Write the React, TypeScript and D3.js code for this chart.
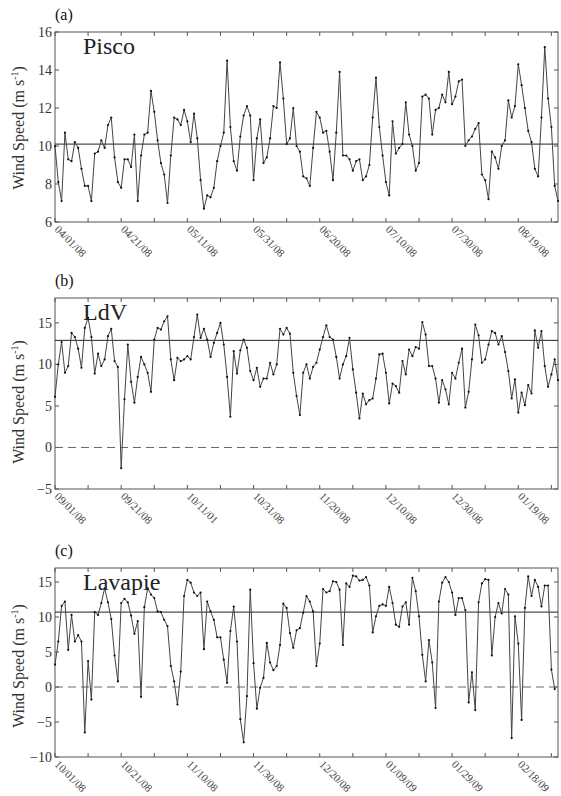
import React from "react";
import * as d3 from "d3";

// daily wind speed (m s-1), day 0 = first date label
const piscoSpeed = [
  10.0, 8.1, 7.1, 10.7, 9.3, 9.2, 10.2, 9.9, 8.8, 7.9, 7.9, 7.1, 9.6, 9.7, 10.3, 9.9, 11.1, 11.5, 9.4, 8.1,
  7.8, 9.3, 9.3, 8.9, 10.6, 7.1, 9.5, 10.6, 10.7, 12.9, 11.8, 10.3, 9.1, 8.5, 7.0, 9.5, 11.5, 11.4, 11.1, 11.9,
  11.3, 10.2, 11.7, 10.4, 8.2, 6.7, 7.4, 7.3, 7.8, 9.2, 10.0, 10.7, 14.5, 11.0, 9.2, 8.7, 10.5, 11.6, 12.1, 11.6,
  8.2, 10.4, 11.4, 9.1, 9.4, 10.4, 12.1, 12.0, 14.4, 12.5, 10.1,
  10.4, 12.0, 10.0, 9.7, 8.4, 8.3, 7.9, 9.9, 11.8, 11.5, 10.7, 10.8, 9.7, 8.2, 10.7, 13.9, 9.5, 9.5, 9.3, 8.7,
  9.2, 9.3, 8.2, 8.4, 9.0, 11.5, 13.6, 11.0, 9.5, 8.1, 7.4, 11.3, 9.6, 9.9, 10.1, 12.3, 10.6, 10.0, 8.7, 9.1,
  12.6, 12.7, 12.5, 10.6, 11.9, 12.0, 12.7, 12.3, 13.9, 12.2, 12.6, 13.4, 13.5, 10.0, 10.3, 10.5, 10.9, 11.2, 8.5, 8.2,
  7.2, 9.7, 9.4, 8.8, 10.0, 10.3, 12.4, 11.5, 12.1, 14.3, 13.2, 12.0, 10.8, 10.2, 8.8, 8.4, 11.5, 15.2, 12.5, 11.0,
  7.9, 7.1,
];

const ldvSpeed = [
  6.1, 10.0, 12.7, 9.0, 9.8, 13.8, 13.3, 11.9, 9.6, 14.4, 15.6, 13.3, 8.9, 11.3, 9.8, 10.6, 13.4, 14.3, 10.4, 9.7,
  -2.5, 5.8, 12.4, 7.9, 5.4, 8.5, 10.9, 10.0, 9.0, 6.7, 13.0, 14.4, 14.2, 15.2, 15.8, 10.6, 8.1, 10.8, 10.4, 10.6,
  11.0, 10.6, 13.3, 16.0, 13.2, 14.3, 13.0, 10.9, 12.6, 13.8, 15.0, 12.4, 8.5, 3.7, 11.6, 8.9, 11.7, 13.0, 12.0, 9.2,
  8.1, 9.6, 7.3, 8.3, 8.3, 10.2, 8.8, 10.0, 14.3, 13.6, 14.4,
  13.7, 9.0, 6.2, 3.9, 9.0, 10.0, 8.3, 9.7, 10.2, 11.8, 13.3, 14.7, 13.3, 13.0, 10.9, 8.3, 10.0, 11.0, 13.2, 9.4,
  6.6, 3.5, 6.5, 5.2, 5.7, 5.9, 8.3, 11.2, 11.3, 9.0, 5.3, 7.7, 7.4, 6.6, 10.4, 8.8, 11.8, 11.0, 12.1, 11.9,
  15.1, 13.6, 9.8, 9.8, 8.3, 5.4, 8.1, 7.0, 5.2, 9.0, 8.3, 10.2, 11.9, 4.8, 6.7, 10.6, 14.8, 13.5, 10.2, 10.6,
  12.4, 14.0, 13.8, 12.4, 13.4, 11.5, 9.2, 5.9, 8.2, 4.2, 6.6, 5.1, 7.5, 6.5, 14.1, 12.0, 14.0, 9.8, 7.3, 8.8,
  10.6, 8.1,
];

const lavapieSpeed = [
  3.2, 6.5, 11.6, 12.2, 5.3, 10.3, 6.5, 7.4, 6.5, -6.5, 3.7, -1.8, 10.7, 10.3, 12.0, 14.1, 12.1, 9.7, 4.5, 0.8,
  12.0, 12.6, 12.1, 10.2, 7.6, 9.4, -1.4, 11.4, 14.1, 13.2, 12.7, 10.8, 10.7, 9.6, 8.7, 3.0, 0.8, -2.5, 2.2, 13.0,
  15.3, 14.9, 13.5, 13.0, 13.5, 5.4, 12.2, 10.8, 9.6, 7.1, 7.1, 3.9, 0.6, 8.0, 11.5, 6.5, -4.6, -7.9, -1.3, 13.9,
  3.4, -3.1, -0.1, 1.3, 6.3, 3.5, 2.4, 3.0, 6.0, 11.9, 11.3,
  7.7, 5.6, 8.1, 8.4, 10.6, 13.0, 12.2, 10.8, 3.0, 6.2, 14.0, 13.5, 13.7, 15.1, 15.0, 13.9, 6.0, 14.8, 14.3, 15.9,
  15.8, 15.2, 15.3, 15.7, 14.5, 7.8, 10.1, 11.6, 11.8, 11.6, 14.3, 12.0, 8.9, 8.6, 11.5, 12.1, 8.9, 15.6, 13.7, 10.1,
  4.6, 0.8, 6.7, 3.5, -3.0, 12.2, 14.9, 15.7, 15.0, 13.5, 10.3, 12.7, 12.7, 11.0, -2.2, 2.1, -3.3, 12.1, 14.8, 15.4,
  15.3, 4.5, 10.0, 12.0, 10.5, 14.0, 13.2, -7.3, 10.1, 6.2, -4.7, 11.3, 15.8, 13.0, 15.3, 14.3, 11.5, 14.5, 14.5, 2.5,
  -0.3,
];

const piscoMean = 10.1;
const ldvMean = 12.9;
const lavapieMean = 10.7;

const piscoDates = ["04/01/08", "04/21/08", "05/11/08", "05/31/08", "06/20/08", "07/10/08", "07/30/08", "08/19/08"];
const ldvDates = ["09/01/08", "09/21/08", "10/11/01", "10/31/08", "11/20/08", "12/10/08", "12/30/08", "01/19/08"];
const lavapieDates = ["10/01/08", "10/21/08", "11/10/08", "11/30/08", "12/20/08", "01/09/09", "01/29/09", "02/18/09"];

const piscoTicks = [6, 8, 10, 12, 14, 16];
const ldvTicks = [-5, 0, 5, 10, 15];
const lavapieTicks = [-10, -5, 0, 5, 10, 15];

const panels = [
  { tag: "(a)", name: "Pisco", values: piscoSpeed, mean: piscoMean, dates: piscoDates, yTicks: piscoTicks,
    yDomain: [6, 16], top: 32, bottom: 222, zero: false, labelY: 128 },
  { tag: "(b)", name: "LdV", values: ldvSpeed, mean: ldvMean, dates: ldvDates, yTicks: ldvTicks,
    yDomain: [-5, 18], top: 298, bottom: 489, zero: true, labelY: 402 },
  { tag: "(c)", name: "Lavapie", values: lavapieSpeed, mean: lavapieMean, dates: lavapieDates, yTicks: lavapieTicks,
    yDomain: [-10, 17], top: 568, bottom: 757, zero: true, labelY: 666 },
];

const serif = { fontFamily: "Liberation Serif" };
const left = 55, right = 558, nDays = 152;
const x = d3.scaleLinear().domain([0, nDays]).range([left, right]);
const dayTicks = d3.range(0, nDays, 10);
const axisColor = "#555";

const Panel = ({ p }) => {
  const y = d3.scaleLinear().domain(p.yDomain).range([p.bottom, p.top]);
  const line = d3.line<number>().x((d, i) => x(i)).y(d => y(d));
  return (
    <g>
      <rect x={left} y={p.top} width={right - left} height={p.bottom - p.top}
        fill="none" stroke={axisColor} strokeWidth={1} />
      {dayTicks.map(d => (
        <g key={"x" + d}>
          <line x1={x(d)} x2={x(d)} y1={p.bottom} y2={p.bottom - 4} stroke={axisColor} />
          <line x1={x(d)} x2={x(d)} y1={p.top} y2={p.top + 4} stroke={axisColor} />
        </g>
      ))}
      {p.yTicks.map(t => (
        <g key={"y" + t}>
          <line x1={left} x2={left + 4} y1={y(t)} y2={y(t)} stroke={axisColor} />
          <line x1={right} x2={right - 4} y1={y(t)} y2={y(t)} stroke={axisColor} />
          <text x={left - 3} y={y(t) + 5} textAnchor="end" fontSize={14} fill="#333" style={serif}>
            {t < 0 ? "\u2212" + Math.abs(t) : String(t)}
          </text>
        </g>
      ))}
      {p.dates.map((lab, i) => (
        <text key={lab + i} transform={`translate(${x(i * 20) - 1},${p.bottom + 8}) rotate(45)`}
          fontSize={11} fill="#444" style={serif}>{lab}</text>
      ))}
      {p.zero && (
        <line x1={left} x2={right} y1={y(0)} y2={y(0)} stroke="#666" strokeWidth={1} strokeDasharray="8,5" />
      )}
      <line x1={left} x2={right} y1={y(p.mean)} y2={y(p.mean)} stroke="#222" strokeWidth={1} />
      <path d={line(p.values) || ""} fill="none" stroke="#444" strokeWidth={1} />
      {p.values.map((v, i) => (
        <circle key={i} cx={x(i)} cy={y(v)} r={1.1} fill="#111" />
      ))}
      <text x={83} y={p.top + 22} fontSize={24} fill="#222" style={serif}>{p.name}</text>
      <text x={55} y={p.top - 12} fontSize={16} fill="#111" style={serif}>{p.tag}</text>
      <text transform={`translate(24,${p.labelY}) rotate(-90)`} textAnchor="middle"
        fontSize={16} fill="#333" style={serif}>
        <tspan>Wind Speed (m s</tspan>
        <tspan fontSize={10} dy={-6}>-1</tspan>
        <tspan dy={6}>)</tspan>
      </text>
    </g>
  );
};

const App = () => (
  <svg width={561} height={796} style={{ position: "absolute", left: 0, top: 0, background: "#fff" }}>
    {panels.map(p => <Panel key={p.tag} p={p} />)}
  </svg>
);

export default App;
